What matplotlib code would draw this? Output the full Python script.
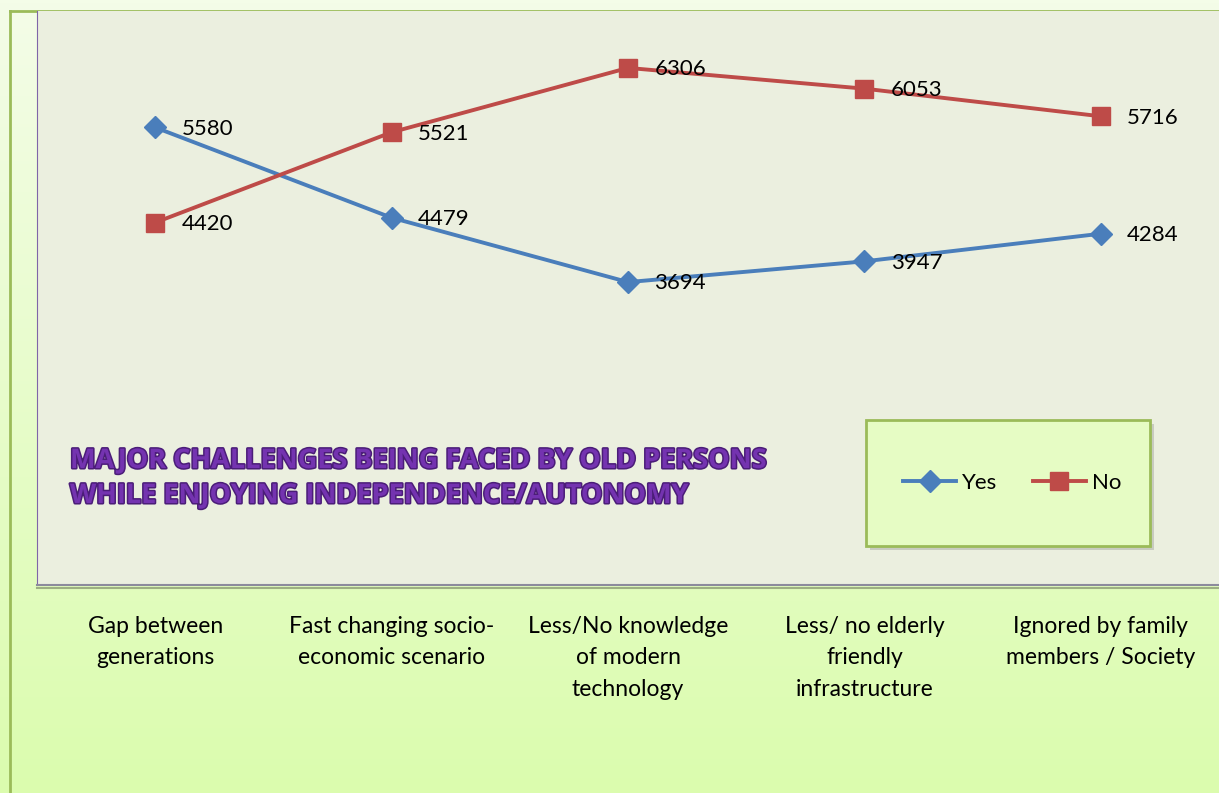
import matplotlib
matplotlib.use("Agg")
import matplotlib.pyplot as plt
import matplotlib.patheffects as pe
from matplotlib.patches import Rectangle
import numpy as np

categories = ["Gap between\ngenerations",
              "Fast changing socio-\neconomic scenario",
              "Less/No knowledge\nof modern\ntechnology",
              "Less/ no elderly\nfriendly\ninfrastructure",
              "Ignored by family\nmembers / Society"]
yes_vals = [5580, 4479, 3694, 3947, 4284]
no_vals = [4420, 5521, 6306, 6053, 5716]

W, H = 1219, 793
plt.rcParams['font.family'] = ['Lato', 'DejaVu Sans']
fig = plt.figure(figsize=(W/100, H/100), dpi=100)

# outer gradient background
bg = fig.add_axes([0, 0, 1, 1], zorder=0)
grad = np.linspace(0, 1, 256).reshape(-1, 1)
cmap = matplotlib.colors.LinearSegmentedColormap.from_list("g", ["#f4fde8", "#dbfcae"])
bg.imshow(grad, aspect="auto", cmap=cmap, extent=[0, W, H, 0])
bg.plot([10, 10], [11, H], color="#9bbb59", lw=2)
bg.plot([10, W], [11, 11], color="#9bbb59", lw=2)
bg.set_xlim(0, W); bg.set_ylim(H, 0)
bg.axis("off")

# plot area
ax = fig.add_axes([37/W, (H-585)/H, 1-37/W, (585-11)/H], zorder=1)
ax.set_facecolor("#ebefdf")
x = np.arange(len(categories))
ax.plot(x, yes_vals, color="#4a7ebb", lw=2.8, marker="D", ms=11,
        label="Yes", zorder=3)
ax.plot(x, no_vals, color="#be4b48", lw=2.8, marker="s", ms=13,
        label="No", zorder=3)
for xi, v in zip(x, yes_vals):
    ax.annotate(str(v), (xi, v), xytext=(19, -1), textcoords="offset points",
                va="center", ha="left", fontsize=16)
for xi, v in zip(x, no_vals):
    ax.annotate(str(v), (xi, v), xytext=(19, -1), textcoords="offset points",
                va="center", ha="left", fontsize=16)
ax.set_xlim(-0.5, 4.5)
ax.set_ylim(0, 7000)
ax.set_yticks([])
ax.set_xticks(x)
ax.set_xticklabels(categories, fontsize=16.5, linespacing=1.62, va="top")
ax.tick_params(axis="x", length=0, pad=22)
ax.spines["top"].set_visible(False)
ax.spines["right"].set_visible(False)
ax.spines["left"].set_color("#7f65a8")
ax.spines["bottom"].set_color("#8c8a9c")
ax.spines["bottom"].set_linewidth(1.5)
ax.spines["bottom"].set_path_effects([pe.SimpleLineShadow(offset=(0, -2), alpha=0.3), pe.Normal()])

# title inside plot
title = "MAJOR CHALLENGES BEING FACED BY OLD PERSONS\nWHILE ENJOYING INDEPENDENCE/AUTONOMY"
fig.text(70/W, 1-448/H, title, fontsize=19.5, fontweight="bold", color="#7433b0",
         va="top", ha="left", linespacing=1.45, family=["Open Sans", "DejaVu Sans"],
         path_effects=[pe.withStroke(linewidth=2.2, foreground="#4b1d78")], zorder=5)

# legend box
lx0, ly0, lx1, ly1 = 866, 420, 1150, 546
box = Rectangle((lx0/W, 1-ly1/H), (lx1-lx0)/W, (ly1-ly0)/H, transform=fig.transFigure,
                facecolor="#e6fcc4", edgecolor="#9bbb59", lw=2, zorder=4)
shadow = Rectangle((lx0/W+0.003, 1-ly1/H-0.005), (lx1-lx0)/W, (ly1-ly0)/H,
                   transform=fig.transFigure, facecolor="#888888", alpha=0.35,
                   edgecolor="none", zorder=3.9)
fig.patches.extend([shadow, box])
handles, labels = ax.get_legend_handles_labels()
leg = fig.legend(handles, labels, loc="center", bbox_to_anchor=(1012/W, 1-(ly0+ly1)/2/H),
                 ncol=2, frameon=False, fontsize=16, handlelength=2.4,
                 columnspacing=1.6, handletextpad=0.25)
leg.set_zorder(6)

fig.savefig("out.png", dpi=100)
